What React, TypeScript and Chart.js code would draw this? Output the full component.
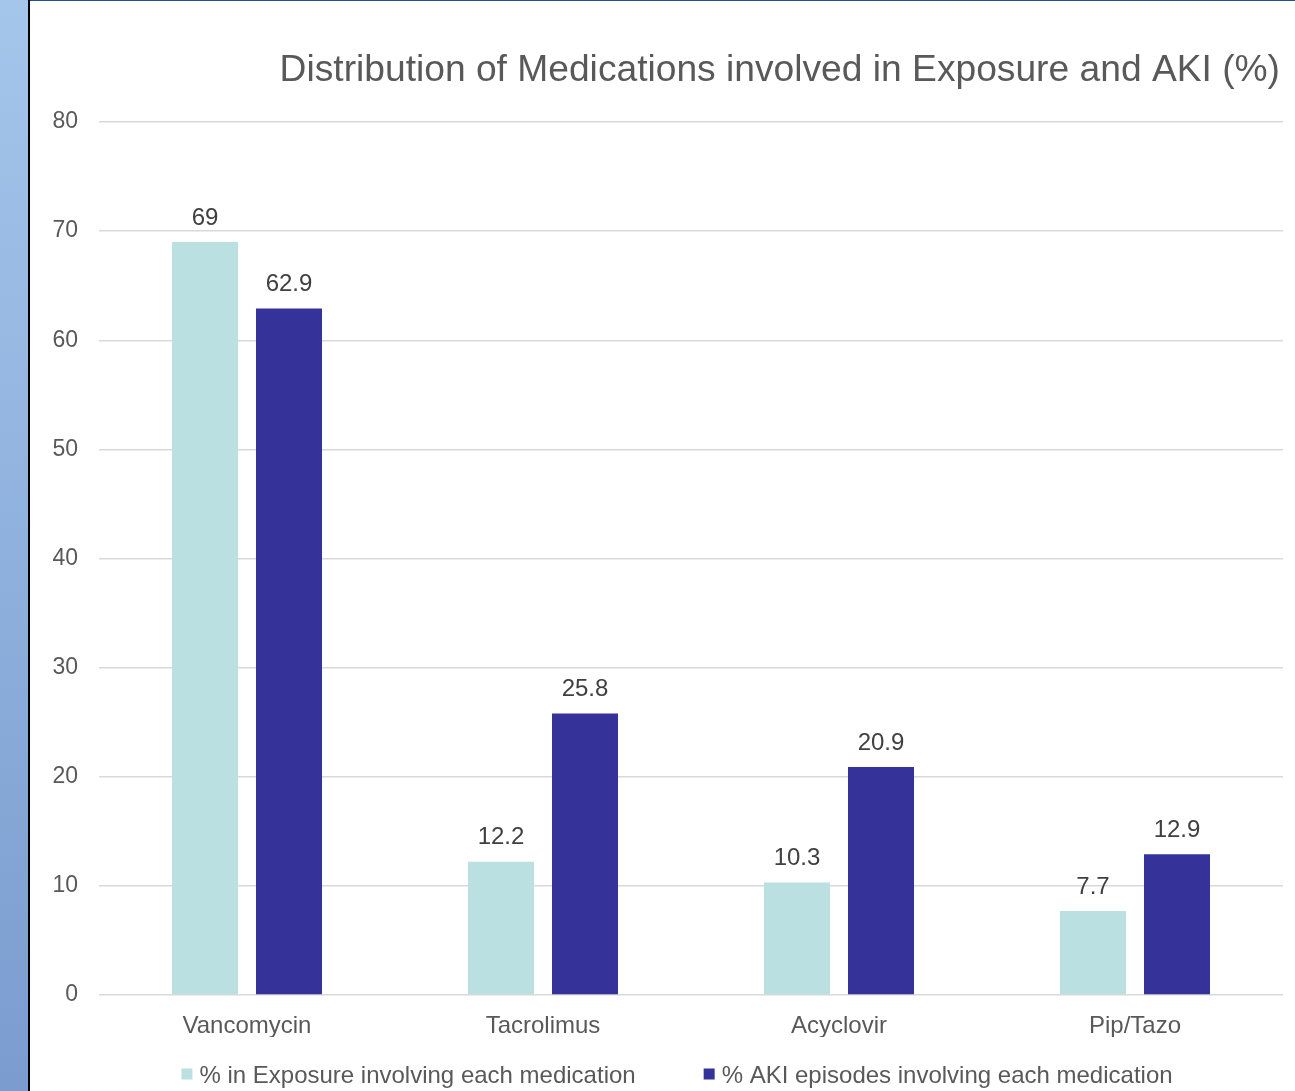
import React, { useEffect, useRef } from "react";
import { Chart, registerables } from "chart.js";

Chart.register(...registerables);

const categories = ["Vancomycin", "Tacrolimus", "Acyclovir", "Pip/Tazo"];
const exposurePct = [69, 12.2, 10.3, 7.7];
const akiPct = [62.9, 25.8, 20.9, 12.9];
const seriesLabels = [
  "% in Exposure involving each medication",
  "% AKI episodes involving each medication",
];
const seriesColors = ["#BAE0E2", "#35339A"];
const yTickValues = [0, 10, 20, 30, 40, 50, 60, 70, 80];
const titleText = "Distribution of Medications involved in Exposure and AKI (%)";

const FONT = '"Liberation Sans", Arial, Helvetica, sans-serif';
const TEXT = "#595959";

const W = 1265;
const H = 1090;

const titlePlugin = {
  id: "customTitle",
  afterDraw(chart: any) {
    const ctx = chart.ctx;
    ctx.save();
    ctx.font = `37.2px ${FONT}`;
    ctx.fillStyle = TEXT;
    ctx.textAlign = "right";
    ctx.textBaseline = "middle";
    ctx.fillText(titleText, 1250, 70);
    ctx.restore();
  },
};

const dataLabelPlugin = {
  id: "dataLabels",
  afterDatasetsDraw(chart: any) {
    const ctx = chart.ctx;
    ctx.save();
    ctx.font = `24px ${FONT}`;
    ctx.fillStyle = "#404040";
    ctx.textAlign = "center";
    ctx.textBaseline = "middle";
    chart.data.datasets.forEach((ds: any, di: number) => {
      const meta = chart.getDatasetMeta(di);
      meta.data.forEach((el: any, i: number) => {
        ctx.fillText(String(ds.data[i]), el.x, el.y - 24);
      });
    });
    ctx.restore();
  },
};

const legendPlugin = {
  id: "customLegend",
  afterDraw(chart: any) {
    const ctx = chart.ctx;
    ctx.save();
    ctx.font = `24px ${FONT}`;
    ctx.textBaseline = "middle";
    ctx.textAlign = "left";
    const box = 11;
    const gap = 7;
    const itemGap = 68;
    const items = chart.data.datasets.map((ds: any) => ({
      text: ds.label,
      color: ds.backgroundColor,
      w: box + gap + ctx.measureText(ds.label).width,
    }));
    const total = items.reduce((s: number, it: any) => s + it.w, 0) + itemGap * (items.length - 1);
    let x = 647 - total / 2;
    const y = 1073;
    items.forEach((it: any) => {
      ctx.fillStyle = it.color;
      ctx.fillRect(x, y - box / 2, box, box);
      ctx.fillStyle = TEXT;
      ctx.fillText(it.text, x + box + gap, y + 2);
      x += it.w + itemGap;
    });
    ctx.restore();
  },
};

export default function App() {
  const ref = useRef<HTMLCanvasElement | null>(null);

  useEffect(() => {
    document.body.style.margin = "0";
    const canvas = ref.current;
    if (!canvas) return;
    const chart = new Chart(canvas, {
      type: "bar",
      data: {
        labels: categories,
        datasets: [
          {
            label: seriesLabels[0],
            data: exposurePct,
            backgroundColor: seriesColors[0],
            categoryPercentage: 0.5676,
            barPercentage: 0.786,
          },
          {
            label: seriesLabels[1],
            data: akiPct,
            backgroundColor: seriesColors[1],
            categoryPercentage: 0.5676,
            barPercentage: 0.786,
          },
        ],
      },
      options: {
        responsive: false,
        animation: false,
        devicePixelRatio: 1,
        layout: { padding: { left: 0, right: 12, top: 121, bottom: 54 } },
        plugins: {
          legend: { display: false },
          title: { display: false },
          tooltip: { enabled: false },
        },
        scales: {
          x: {
            grid: { display: false, drawTicks: false },
            border: { display: false },
            ticks: {
              color: TEXT,
              font: { family: FONT, size: 24 },
              padding: 17,
            },
            afterFit(scale: any) {
              scale.height = 42;
            },
          },
          y: {
            min: 0,
            max: 80,
            afterBuildTicks(scale: any) {
              scale.ticks = yTickValues.map((v) => ({ value: v }));
            },
            grid: { color: "#D9D9D9", lineWidth: 1.5, drawTicks: false },
            border: { display: false },
            ticks: {
              color: TEXT,
              font: { family: FONT, size: 23 },
              padding: 21,
            },
            afterFit(scale: any) {
              scale.width = 69;
            },
          },
        },
      },
      plugins: [titlePlugin, dataLabelPlugin, legendPlugin],
    });
    return () => chart.destroy();
  }, []);

  return (
    <div
      style={{
        position: "fixed",
        left: 0,
        top: 0,
        width: 1295,
        height: 1091,
        background: "#ffffff",
        overflow: "hidden",
      }}
    >
      <div
        style={{
          position: "absolute",
          left: 0,
          top: 0,
          width: 28,
          height: 1091,
          background: "linear-gradient(to bottom, #A4C6EB, #7A9CCF)",
        }}
      />
      <div
        style={{
          position: "absolute",
          left: 28,
          top: 0,
          width: 2,
          height: 1091,
          background: "#000000",
        }}
      />
      <div
        style={{
          position: "absolute",
          left: 30,
          top: 0,
          width: 1265,
          height: 1,
          background: "#1F4E9A",
        }}
      />
      <canvas
        ref={ref}
        width={W}
        height={H}
        style={{ position: "absolute", left: 30, top: 1, width: W, height: H, display: "block" }}
      />
    </div>
  );
}
